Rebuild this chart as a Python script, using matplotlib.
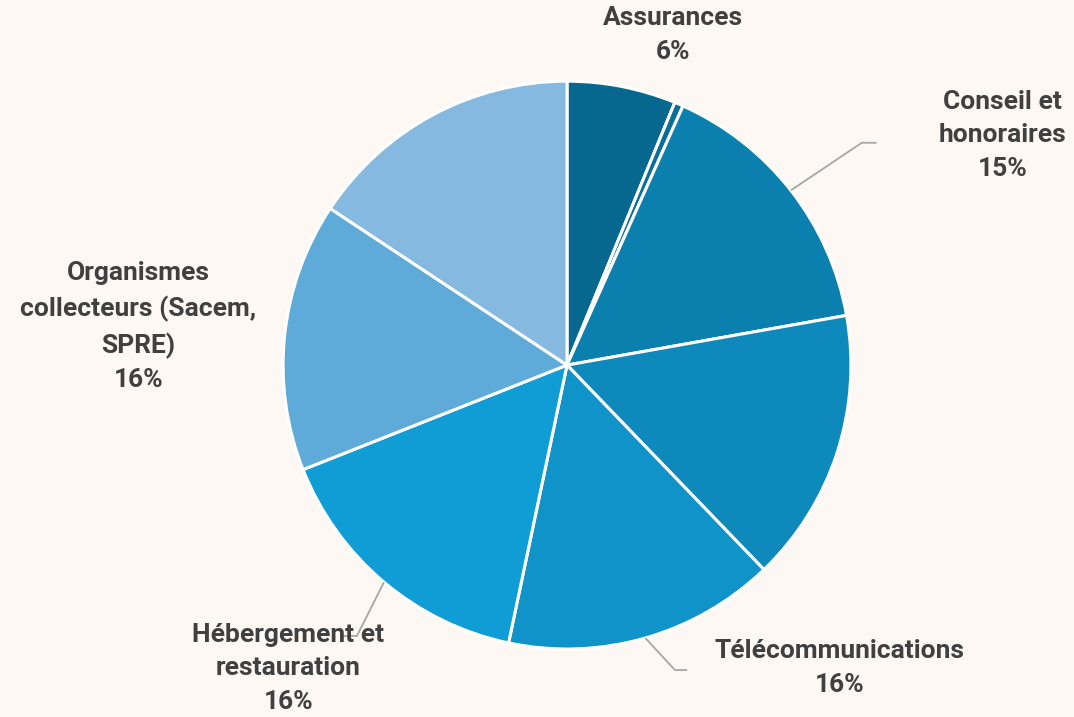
import numpy as np
import matplotlib
matplotlib.use("Agg")
import matplotlib.pyplot as plt

categories = ["Assurances", "", "Conseil et\nhonoraires", "", "Télécommunications",
              "Hébergement et\nrestauration", "Organismes\ncollecteurs (Sacem,\nSPRE)", ""]
values = [6.2, 0.5, 15.5, 15.6, 15.5, 15.7, 15.3, 15.7]
pct_labels = ["6%", "", "15%", "", "16%", "16%", "16%", ""]
colors = ["#07688f", "#0a6f98", "#0b80ae", "#0d89bb", "#0f93c9", "#109dd6", "#5eaad8", "#85b9df"]

bg = "#fdf8f4"
txt_color = "#404040"
plt.rcParams['font.family'] = ['Roboto', 'DejaVu Sans']

fig = plt.figure(figsize=(10.74, 7.17), dpi=100, facecolor=bg)
ax = fig.add_axes([0.2635, 0.0948, 0.5289, 0.792])
ax.set_facecolor(bg)
wedges, _ = ax.pie(values, colors=colors, startangle=90, counterclock=False,
                   radius=1.0, wedgeprops=dict(edgecolor="white", linewidth=2.2))
ax.set_xlim(-1, 1)
ax.set_ylim(-1, 1)
ax.set_aspect("equal")
ax.axis("off")

# label placement (text centre in data units, leader line elbow or None)
label_pos = {
    0: ((0.373, 1.162), None),
    2: ((1.535, 0.81), ((1.038, 0.783), (1.09, 0.783))),
    4: ((0.961, -1.067), ((0.380, -1.074), (0.423, -1.074))),
    5: ((-0.982, -1.067), ((-0.74, -0.954), (-0.79, -0.954))),
    6: ((-1.51, 0.135), None),
}

for i, w in enumerate(wedges):
    if i not in label_pos:
        continue
    (tx, ty), leader = label_pos[i]
    text = categories[i] + "\n" + pct_labels[i]
    ax.text(tx, ty, text, ha="center", va="center", fontsize=19, fontweight="bold",
            color=txt_color, linespacing=1.5, clip_on=False)
    if leader is not None:
        ang = np.deg2rad((w.theta1 + w.theta2) / 2)
        sx, sy = np.cos(ang), np.sin(ang)
        (ex, ey), (fx, fy) = leader
        ax.plot([sx, ex, fx], [sy, ey, fy], color="#a6a6a6", lw=1.3, clip_on=False,
                solid_capstyle="butt")

fig.savefig("out.png", dpi=100, facecolor=bg)
